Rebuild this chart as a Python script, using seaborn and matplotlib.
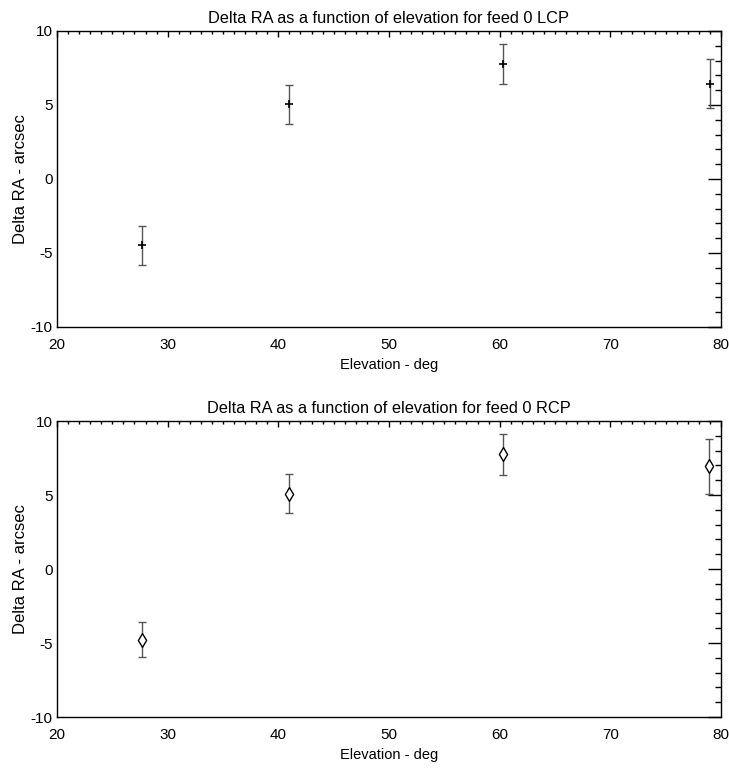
import matplotlib
matplotlib.use("Agg")
import matplotlib.pyplot as plt
from matplotlib.ticker import MultipleLocator
import numpy as np
import pandas as pd
import seaborn as sns

# Pointing offsets versus elevation for feed 0
elevation_lcp = [27.7, 41.0, 60.3, 79.0]
delta_ra_lcp = [-4.48, 5.04, 7.76, 6.45]
err_lcp = [1.32, 1.32, 1.36, 1.64]

elevation_rcp = [27.7, 41.0, 60.3, 78.95]
delta_ra_rcp = [-4.77, 5.10, 7.74, 6.95]
err_rcp = [1.20, 1.32, 1.38, 1.85]

xticks = [20, 30, 40, 50, 60, 70, 80]
yticks = [-10, -5, 0, 5, 10]

sns.set_theme(style="white")
plt.rcParams["font.family"] = ["Liberation Sans", "DejaVu Sans"]
plt.rcParams["axes.unicode_minus"] = False
plt.rcParams["text.color"] = "black"
plt.rcParams["axes.labelcolor"] = "black"
plt.rcParams["xtick.color"] = "black"
plt.rcParams["ytick.color"] = "black"

fig = plt.figure(figsize=(7.29, 7.69), dpi=100)
ax_top = fig.add_axes([0.0782, 0.5748, 0.9108, 0.3849])
ax_bot = fig.add_axes([0.0782, 0.0676, 0.9108, 0.3849])

panels = [
    (ax_top, elevation_lcp, delta_ra_lcp, err_lcp, "+", 6, "LCP"),
    (ax_bot, elevation_rcp, delta_ra_rcp, err_rcp, "d", 7, "RCP"),
]

for ax, x, y, e, mk, ms, pol in panels:
    df = pd.DataFrame({"elev": x, "dra": y, "err": e})
    ax.errorbar(df["elev"], df["dra"], yerr=df["err"], fmt="none",
                ecolor="#555555", elinewidth=1.0, capsize=2.8, capthick=1.0,
                zorder=2)
    if mk == "+":
        sns.scatterplot(data=df, x="elev", y="dra", marker="+", s=ms ** 2,
                        color="black", linewidth=1.2, ax=ax, zorder=3)
    else:
        sns.scatterplot(data=df, x="elev", y="dra", marker="d", s=ms ** 2,
                        facecolor="white", edgecolor="black", linewidth=1.0,
                        ax=ax, zorder=3)

    ax.set_xlim(20, 80)
    ax.set_ylim(-10, 10)
    ax.set_xticks(xticks)
    ax.set_yticks(yticks)
    ax.xaxis.set_minor_locator(MultipleLocator(1))
    ax.yaxis.set_minor_locator(MultipleLocator(1))
    ax.tick_params(axis="both", which="both", direction="in", top=True,
                   right=True, colors="black", labelsize=11, width=1.0)
    ax.tick_params(axis="x", which="major", length=4.5, pad=8)
    ax.tick_params(axis="x", which="minor", length=2.2)
    ax.tick_params(axis="y", which="major", length=9.5, pad=3)
    ax.tick_params(axis="y", which="minor", length=4.5)
    for side in ax.spines.values():
        side.set_color("black")
        side.set_linewidth(1.0)
    ax.set_xlabel("Elevation - deg", fontsize=10.5, labelpad=4)
    ax.set_ylabel("Delta RA - arcsec", fontsize=12)
    ax.yaxis.set_label_coords(-0.044, 0.5)
    ax.set_title(f"Delta RA as a function of elevation for feed 0 {pol}",
                 fontsize=11.8, pad=6)

fig.savefig("out.png", dpi=100, facecolor="white")
